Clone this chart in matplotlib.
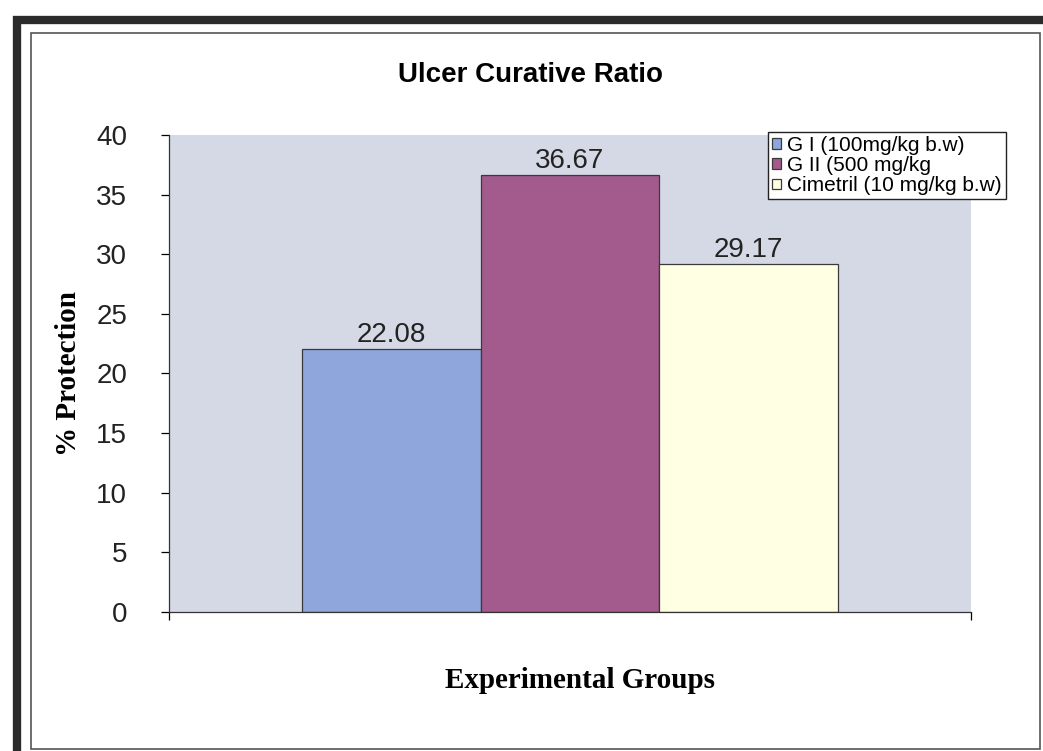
import matplotlib.pyplot as plt
from matplotlib.patches import Rectangle

# Data
groups = ['G I (100mg/kg b.w)', 'G II (500 mg/kg', 'Cimetril (10 mg/kg b.w)']
protection = [22.08, 36.67, 29.17]
value_labels = ['22.08', '36.67', '29.17']
bar_colors = ['#8FA6DC', '#A35A8C', '#FFFFE3']
y_ticks = [0, 5, 10, 15, 20, 25, 30, 35, 40]

W, H = 1043, 751
fig = plt.figure(figsize=(W / 100, H / 100), dpi=100)
fig.patch.set_facecolor('white')

# plot area (pixel coordinates)
left, right, top, bottom = 169, 971, 135, 612
ax = fig.add_axes([left / W, 1 - bottom / H, (right - left) / W, (bottom - top) / H])
ax.set_facecolor('#D5D9E5')

xpos = [-1, 0, 1]
bars = ax.bar(xpos, protection, width=1.0, color=bar_colors,
              edgecolor='#3a3a3a', linewidth=0.9, label=groups)
for b, lab in zip(bars, value_labels):
    ax.text(b.get_x() + b.get_width() / 2, b.get_height() + 0.1, lab,
            ha='center', va='bottom', fontsize=20, family='Liberation Sans',
            color='#222222')

ax.set_xlim(-2.245, 2.245)
ax.set_ylim(0, 40)
ax.set_yticks(y_ticks)
ax.set_yticklabels([str(t) for t in y_ticks], fontsize=20,
                   family='Liberation Sans', color='#222222')
ax.set_xticks([-2.245, 2.245])
ax.set_xticklabels(['', ''])
ax.tick_params(axis='y', direction='out', length=6, width=0.9, pad=24)
ax.tick_params(axis='x', direction='out', length=6, width=0.9)
for s in ['top', 'right']:
    ax.spines[s].set_visible(False)
for s in ['left', 'bottom']:
    ax.spines[s].set_color('#333333')
    ax.spines[s].set_linewidth(0.9)

ax.set_ylabel('% Protection', fontsize=21, fontweight='bold',
              family='Liberation Serif', labelpad=10)

fig.text(530 / W, 1 - 75 / H, 'Ulcer Curative Ratio', ha='center', va='center',
         fontsize=20, fontweight='bold', family='Liberation Sans')
fig.text(580 / W, 1 - 680 / H, 'Experimental Groups', ha='center', va='center',
         fontsize=21, fontweight='bold', family='Liberation Serif')

leg = ax.legend(handles=list(bars), labels=groups, loc='upper left',
                bbox_to_anchor=(768 / W, 1 - 132 / H),
                bbox_transform=fig.transFigure,
                prop={'family': 'Liberation Sans', 'size': 15},
                frameon=True, fancybox=False, handlelength=0.4,
                handleheight=0.4, handletextpad=0.3, labelspacing=0.05,
                borderpad=0.2, borderaxespad=0)
leg.get_frame().set_edgecolor('#222222')
leg.get_frame().set_linewidth(1.0)
leg.get_frame().set_alpha(1.0)

# scanned double frame around the chart
fig.add_artist(Rectangle((17 / W, 1 - 760 / H), 1.1, (760 - 20) / H,
                         transform=fig.transFigure, fill=False,
                         edgecolor='#2b2b2b', linewidth=6))
fig.add_artist(Rectangle((31 / W, 1 - 749 / H), (1040 - 31) / W, (749 - 33) / H,
                         transform=fig.transFigure, fill=False,
                         edgecolor='#555555', linewidth=1.2))

fig.savefig('out.png', dpi=100)
